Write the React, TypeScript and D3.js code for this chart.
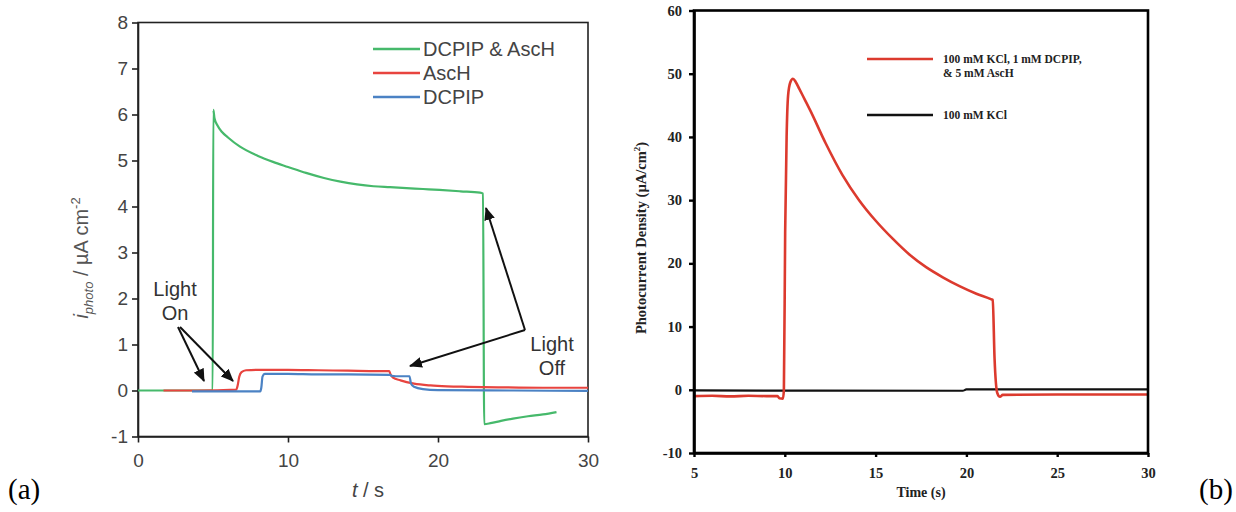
import React, { useEffect, useRef } from "react";
import * as d3 from "d3";

// ---------- Panel (a) data ----------
const leftTimeTicks = [0, 10, 20, 30];
const leftCurrentTicks = [-1, 0, 1, 2, 3, 4, 5, 6, 7, 8];
const leftLegendLabels = ["DCPIP & AscH", "AscH", "DCPIP"];

const dcpipAscH: [number, number][] = [
  [0, 0], [4.98, 0], [5.02, 6.1], [5.1, 5.92], [5.3, 5.76], [5.6, 5.62], [6, 5.5],
  [6.8, 5.3], [8, 5.1], [9, 4.97], [10, 4.86], [11.2, 4.73], [12.4, 4.62], [13.5, 4.54],
  [14.6, 4.48], [15.7, 4.44], [16.8, 4.42], [17.9, 4.4], [19, 4.38], [20.1, 4.36],
  [21.5, 4.33], [22.8, 4.3], [23.0, 4.28], [23.08, -0.73], [23.5, -0.71], [24.2, -0.66],
  [25, -0.61], [26, -0.56], [27, -0.52], [27.9, -0.47],
];
const ascH: [number, number][] = [
  [1.7, 0], [4, 0.0], [6.55, 0.02], [6.65, 0.12], [6.75, 0.3], [6.9, 0.4], [7.2, 0.44],
  [8, 0.45], [10, 0.45], [12, 0.44], [14, 0.43], [16, 0.42], [16.75, 0.42], [16.85, 0.34],
  [17, 0.28], [17.5, 0.22], [18.4, 0.15], [19.5, 0.11], [20.6, 0.09], [22, 0.08],
  [24, 0.07], [27, 0.06], [30, 0.06],
];
const dcpip: [number, number][] = [
  [3.6, -0.02], [6, -0.02], [8.15, -0.02], [8.22, 0.06], [8.3, 0.3], [8.45, 0.36],
  [10, 0.36], [12, 0.35], [14, 0.35], [16.8, 0.34], [16.9, 0.32], [17.2, 0.31],
  [18.1, 0.31], [18.2, 0.15], [18.4, 0.08], [19, 0.03], [20, 0.01], [25, 0], [30, -0.01],
];

// ---------- Panel (b) data ----------
const rightTimeTicks = [5, 10, 15, 20, 25, 30];
const rightDensityTicks = [-10, 0, 10, 20, 30, 40, 50, 60];
const rightLegendLabels = [["100 mM KCl, 1 mM DCPIP,", "& 5 mM AscH"], ["100 mM KCl"]];

const kclDcpipAscH: [number, number][] = [
  [5, -1], [6, -0.95], [7, -1.05], [8, -0.95], [9, -1.0], [9.6, -1.0], [9.7, -1.35],
  [9.9, -1.4], [9.95, 0], [10.02, 25], [10.1, 40], [10.18, 46.5], [10.3, 48.6],
  [10.45, 49.2], [10.6, 48.7], [10.8, 47.6], [11.1, 45.9], [11.4, 44.2], [12.25, 39],
  [13.17, 34.0], [14.09, 30.0], [15.02, 26.7], [15.94, 23.9], [16.86, 21.4], [17.78, 19.4],
  [18.7, 17.8], [19.62, 16.4], [20.55, 15.2], [21.38, 14.3], [21.45, 14.2], [21.55, 5],
  [21.7, -0.5], [21.85, -1.1], [22, -0.8], [25, -0.75], [30, -0.75],
];
const kclOnly: [number, number][] = [
  [5, -0.1], [19.8, -0.15], [20, 0.05], [30, 0.05],
];

const hyphenInt = (d: d3.NumberValue) => String(Math.round(+d)).replace("\u2212", "-");

export default function App() {
  const ref = useRef<SVGSVGElement>(null);

  useEffect(() => {
    const svg = d3.select(ref.current);
    svg.selectAll("*").remove();

    const defs = svg.append("defs");
    defs.append("marker")
      .attr("id", "arrowHead")
      .attr("viewBox", "0 0 12 10")
      .attr("refX", 11).attr("refY", 5)
      .attr("markerUnits", "userSpaceOnUse")
      .attr("markerWidth", 13).attr("markerHeight", 11)
      .attr("orient", "auto")
      .append("path").attr("d", "M0,0 L12,5 L0,10 Z").attr("fill", "#111");

    // ===================== Panel (a) =====================
    const sans = "'Liberation Sans', Arial, sans-serif";
    const xL = d3.scaleLinear().domain([0, 30]).range([138, 588]);
    const yL = d3.scaleLinear().domain([-1, 8]).range([436.5, 22.5]);
    const gA = svg.append("g");

    gA.append("rect")
      .attr("x", xL(0)).attr("y", yL(8))
      .attr("width", xL(30) - xL(0)).attr("height", yL(-1) - yL(8))
      .attr("fill", "none").attr("stroke", "#222").attr("stroke-width", 1.6);

    const axYL = gA.append("g").attr("transform", `translate(${xL(0)},0)`)
      .call(d3.axisLeft(yL).tickValues(leftCurrentTicks).tickSize(6).tickSizeOuter(0).tickPadding(4).tickFormat(hyphenInt));
    const axXL = gA.append("g").attr("transform", `translate(0,${yL(-1)})`)
      .call(d3.axisBottom(xL).tickValues(leftTimeTicks).tickSize(6).tickSizeOuter(0).tickPadding(11).tickFormat(hyphenInt));
    [axYL, axXL].forEach((ax) => {
      ax.select(".domain").attr("stroke", "#222").attr("stroke-width", 1.6);
      ax.selectAll(".tick line").attr("stroke", "#222").attr("stroke-width", 1.6);
      ax.selectAll(".tick text").attr("font-family", sans).attr("font-size", 19).attr("fill", "#444");
    });

    const lineL = d3.line<[number, number]>().x((d) => xL(d[0])).y((d) => yL(d[1]))
      .curve(d3.curveMonotoneX);
    const colorsL = ["#46b96b", "#e8443f", "#4b82c4"];
    const seriesL = [dcpipAscH, ascH, dcpip];
    seriesL.forEach((s, i) => {
      gA.append("path").attr("d", lineL(s) as string)
        .attr("fill", "none").attr("stroke", colorsL[i]).attr("stroke-width", 2.2)
        .attr("stroke-linejoin", "round");
    });

    leftLegendLabels.forEach((lab, i) => {
      const y = 49 + i * 24;
      gA.append("line").attr("x1", 373).attr("x2", 420).attr("y1", y).attr("y2", y)
        .attr("stroke", colorsL[i]).attr("stroke-width", 2.5);
      gA.append("text").attr("x", 423).attr("y", y + 7)
        .attr("font-family", sans).attr("font-size", 20).attr("fill", "#444").text(lab);
    });

    const yLab = gA.append("text")
      .attr("transform", `translate(88,258) rotate(-90)`)
      .attr("text-anchor", "middle")
      .attr("font-family", sans).attr("font-size", 20).attr("fill", "#555");
    yLab.append("tspan").attr("font-style", "italic").text("i");
    yLab.append("tspan").attr("font-style", "italic").attr("font-size", 13).attr("dy", 5).text("photo");
    yLab.append("tspan").attr("dy", -5).text(" / µA cm");
    yLab.append("tspan").attr("font-size", 13).attr("dy", -8).text("-2");

    const xLab = gA.append("text").attr("x", 368).attr("y", 497).attr("text-anchor", "middle")
      .attr("font-family", sans).attr("font-size", 20).attr("fill", "#444");
    xLab.append("tspan").attr("font-style", "italic").text("t");
    xLab.append("tspan").text(" / s");

    const annot = (lines: string[], cx: number, y0: number) => {
      lines.forEach((t, i) => {
        gA.append("text").attr("x", cx).attr("y", y0 + i * 24).attr("text-anchor", "middle")
          .attr("font-family", sans).attr("font-size", 20).attr("fill", "#333").text(t);
      });
    };
    annot(["Light", "On"], 175, 296);
    annot(["Light", "Off"], 552, 351);

    const arrows: [number, number, number, number][] = [
      [178, 327, 204, 381],
      [180, 327, 233, 381],
      [525, 330, 410, 366],
      [525, 330, 486, 208],
    ];
    arrows.forEach(([x1, y1, x2, y2]) => {
      gA.append("line").attr("x1", x1).attr("y1", y1).attr("x2", x2).attr("y2", y2)
        .attr("stroke", "#111").attr("stroke-width", 2).attr("marker-end", "url(#arrowHead)");
    });

    // ===================== Panel (b) =====================
    const serif = "'Liberation Serif', 'Times New Roman', serif";
    const xR = d3.scaleLinear().domain([5, 30]).range([694, 1148]);
    const yR = d3.scaleLinear().domain([-10, 60]).range([453, 10.5]);
    const gB = svg.append("g");

    const lineR = d3.line<[number, number]>().x((d) => xR(d[0])).y((d) => yR(d[1]))
      .curve(d3.curveMonotoneX);
    gB.append("path").attr("d", lineR(kclOnly) as string).attr("fill", "none")
      .attr("stroke", "#111").attr("stroke-width", 2.2);
    gB.append("path").attr("d", lineR(kclDcpipAscH) as string).attr("fill", "none")
      .attr("stroke", "#dc3a2e").attr("stroke-width", 2.6).attr("stroke-linejoin", "round");

    gB.append("rect")
      .attr("x", xR(5)).attr("y", yR(60))
      .attr("width", xR(30) - xR(5)).attr("height", yR(-10) - yR(60))
      .attr("fill", "none").attr("stroke", "#000").attr("stroke-width", 2.6);

    const axYR = gB.append("g").attr("transform", `translate(${xR(5)},0)`)
      .call(d3.axisLeft(yR).tickValues(rightDensityTicks).tickSize(5).tickSizeOuter(0).tickPadding(7).tickFormat(hyphenInt));
    const axXR = gB.append("g").attr("transform", `translate(0,${yR(-10)})`)
      .call(d3.axisBottom(xR).tickValues(rightTimeTicks).tickSize(4).tickSizeOuter(0).tickPadding(11).tickFormat(hyphenInt));
    [axYR, axXR].forEach((ax) => {
      ax.select(".domain").attr("stroke", "#000").attr("stroke-width", 2.6);
      ax.selectAll(".tick line").attr("stroke", "#000").attr("stroke-width", 2.4);
      ax.selectAll(".tick text").attr("font-family", serif).attr("font-size", 14.5)
        .attr("font-weight", "bold").attr("fill", "#222");
    });

    const colorsR = ["#dc3a2e", "#111"];
    const legendYs = [59, 115];
    rightLegendLabels.forEach((labs, i) => {
      const y = legendYs[i];
      gB.append("line").attr("x1", 867).attr("x2", 933).attr("y1", y).attr("y2", y)
        .attr("stroke", colorsR[i]).attr("stroke-width", 2.6);
      labs.forEach((t, j) => {
        gB.append("text").attr("x", 943).attr("y", y + 4 + j * 14)
          .attr("font-family", serif).attr("font-size", 11.5).attr("font-weight", "bold")
          .attr("fill", "#222").text(t);
      });
    });

    const yLabR = gB.append("text")
      .attr("transform", `translate(646,238) rotate(-90)`)
      .attr("text-anchor", "middle")
      .attr("font-family", serif).attr("font-size", 14.5).attr("font-weight", "bold").attr("fill", "#222");
    yLabR.append("tspan").text("Photocurrent Density (µA/cm");
    yLabR.append("tspan").attr("font-size", 9).attr("dy", -6).text("2");
    yLabR.append("tspan").attr("dy", 6).text(")");

    gB.append("text").attr("x", 921).attr("y", 497).attr("text-anchor", "middle")
      .attr("font-family", serif).attr("font-size", 14).attr("font-weight", "bold")
      .attr("fill", "#222").text("Time (s)");

    svg.append("text").attr("x", 8).attr("y", 499).attr("font-family", serif)
      .attr("font-size", 29).attr("fill", "#000").text("(a)");
    svg.append("text").attr("x", 1199).attr("y", 499).attr("font-family", serif)
      .attr("font-size", 29).attr("fill", "#000").text("(b)");
  }, []);

  return (
    <svg
      ref={ref}
      width={1236}
      height={512}
      style={{ position: "absolute", left: 0, top: 0, background: "#fff" }}
    />
  );
}
